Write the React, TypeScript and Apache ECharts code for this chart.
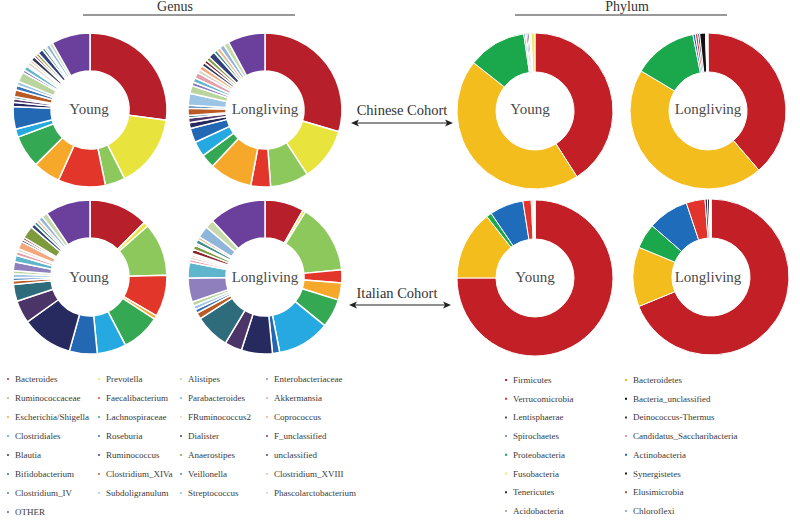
import React, { useEffect, useRef } from 'react';
import * as echarts from 'echarts';

// ---------- Genus data (pie order, clockwise from 12 o'clock) ----------
const genusNames = [
  'Bacteroides', 'Prevotella', 'Ruminococcaceae', 'Faecalibacterium', 'Escherichia/Shigella',
  'Lachnospiraceae', 'Clostridiales', 'Roseburia', 'Blautia', 'Ruminococcus',
  'Bifidobacterium', 'Clostridium_XIVa', 'Clostridium_IV', 'Subdoligranulum', 'Alistipes',
  'Enterobacteriaceae', 'Parabacteroides', 'Akkermansia', 'FRuminococcus2', 'Coprococcus',
  'Dialister', 'F_unclassified', 'Anaerostipes', 'unclassified', 'Veillonella',
  'Clostridium_XVIII', 'Streptococcus', 'Phascolarctobacterium', 'OTHER',
];
const genusColors = [
  '#b7202a', '#e9e33d', '#8dc85c', '#e3362b', '#f5a82a',
  '#34a853', '#25a9e0', '#2368b2', '#262a5e', '#4b3468',
  '#2e6c7c', '#b95a24', '#3f74b5', '#9cc4e4', '#b9d49c',
  '#8f80bd', '#5fb6cc', '#e3a0aa', '#d9d6c6', '#f4a77a',
  '#2f3b5c', '#8a2631', '#7d9a3c', '#34407a', '#3f8f8a',
  '#f0b48a', '#8fb6da', '#c6d9ad', '#6b3f9c',
];
const genusChineseYoung = [27.0, 15.4, 4.2, 9.9, 5.7, 6.8, 1.7, 4.7, 0.9, 0.7, 0.5, 1.4, 1.0, 0.8, 2.1, 0.6, 0.9, 0.4, 0.7, 0.5, 0.9, 0.5, 0.6, 1.1, 0.6, 0.4, 0.8, 0.7, 8.1];
const genusChineseLongliving = [29.3, 11.1, 8.0, 4.1, 8.9, 2.9, 3.2, 3.0, 1.2, 1.0, 0.5, 1.5, 0.6, 2.5, 1.6, 0.8, 0.9, 1.2, 0.8, 0.9, 0.8, 0.7, 0.8, 1.4, 0.7, 0.8, 1.0, 1.1, 7.8];
const genusItalianYoung = [12.4, 1.0, 11.1, 8.7, 0.8, 8.1, 6.1, 5.8, 10.7, 4.8, 3.5, 0.8, 0.6, 0.8, 0.7, 1.8, 1.4, 0.8, 0.6, 1.6, 0.5, 0.5, 2.6, 0.9, 0.7, 0.6, 0.9, 1.2, 9.4];
const genusItalianLongliving = [8.2, 0.6, 14.6, 2.7, 3.6, 6.0, 11.0, 1.5, 6.5, 3.6, 7.3, 1.3, 0.8, 0.8, 0.9, 5.0, 3.3, 0.6, 0.6, 0.4, 0.3, 0.9, 0.9, 0.4, 0.9, 0.6, 2.5, 1.8, 11.9];
const genusLegendColumns = [
  ['Bacteroides', 'Ruminococcaceae', 'Escherichia/Shigella', 'Clostridiales', 'Blautia', 'Bifidobacterium', 'Clostridium_IV', 'OTHER'],
  ['Prevotella', 'Faecalibacterium', 'Lachnospiraceae', 'Roseburia', 'Ruminococcus', 'Clostridium_XIVa', 'Subdoligranulum'],
  ['Alistipes', 'Parabacteroides', 'FRuminococcus2', 'Dialister', 'Anaerostipes', 'Veillonella', 'Streptococcus'],
  ['Enterobacteriaceae', 'Akkermansia', 'Coprococcus', 'F_unclassified', 'unclassified', 'Clostridium_XVIII', 'Phascolarctobacterium'],
];

// ---------- Phylum data ----------
const phylumNames = [
  'Firmicutes', 'Bacteroidetes', 'Proteobacteria', 'Actinobacteria', 'Verrucomicrobia',
  'Tenericutes', 'Bacteria_unclassified', 'Synergistetes', 'Lentisphaerae', 'Spirochaetes',
  'Deinococcus-Thermus', 'Candidatus_Saccharibacteria', 'Elusimicrobia', 'Acidobacteria', 'Chloroflexi',
  'Fusobacteria',
];
const phylumColors = [
  '#c21f26', '#f2bd1d', '#1ba84c', '#1f6cbb', '#e2342c',
  '#2a2f5e', '#111111', '#222222', '#4d5a4a', '#8a9bb0',
  '#3a3a3a', '#d89aa6', '#a0603a', '#a9b59a', '#a7aebf',
  '#efe86a',
];
const phylumChineseYoung = [41.0, 44.7, 12.1, 0.3, 0.2, 0.3, 0.3, 0.05, 0.1, 0.1, 0.05, 0.05, 0.02, 0.02, 0.02, 0.8];
const phylumChineseLongliving = [38.7, 44.9, 13.3, 0.5, 0.5, 0.4, 1.2, 0.1, 0.1, 0.05, 0.05, 0.05, 0.02, 0.02, 0.02, 0.1];
const phylumItalianYoung = [75.0, 14.4, 1.1, 7.0, 1.7, 0.2, 0.2, 0.05, 0.1, 0.05, 0.02, 0.05, 0.02, 0.02, 0.02, 0.05];
const phylumItalianLongliving = [69.0, 12.4, 5.2, 8.5, 3.9, 0.5, 0.4, 0.05, 0.05, 0.05, 0.02, 0.05, 0.02, 0.02, 0.02, 0.05];
const phylumLegendColumns = [
  ['Firmicutes', 'Verrucomicrobia', 'Lentisphaerae', 'Spirochaetes', 'Proteobacteria', 'Fusobacteria', 'Tenericutes', 'Acidobacteria'],
  ['Bacteroidetes', 'Bacteria_unclassified', 'Deinococcus-Thermus', 'Candidatus_Saccharibacteria', 'Actinobacteria', 'Synergistetes', 'Elusimicrobia', 'Chloroflexi'],
];

const groupLabels = ['Young', 'Longliving'];

const SERIF = '"Liberation Serif", "Times New Roman", serif';

function pieSeries(names: string[], colors: string[], values: number[], center: number[], radius: number[], borderWidth: number) {
  return {
    type: 'pie',
    center,
    radius,
    startAngle: 90,
    clockwise: true,
    avoidLabelOverlap: false,
    silent: true,
    label: { show: false },
    labelLine: { show: false },
    itemStyle: { borderColor: '#ffffff', borderWidth },
    data: names.map((n, i) => ({ name: n, value: values[i], itemStyle: { color: colors[i] } })),
  };
}

function centerText(text: string, x: number, y: number) {
  return {
    type: 'text',
    x,
    y,
    style: { text, fontFamily: SERIF, fontSize: 15, fill: '#4a4a4a', align: 'center', verticalAlign: 'middle' },
  };
}

function arrow(x1: number, x2: number, y: number) {
  return [
    { type: 'line', shape: { x1: x1 + 4, y1: y, x2: x2 - 4, y2: y }, style: { stroke: '#222', lineWidth: 1.2 } },
    { type: 'polygon', shape: { points: [[x1, y], [x1 + 8, y - 3.5], [x1 + 6, y], [x1 + 8, y + 3.5]] }, style: { fill: '#222' } },
    { type: 'polygon', shape: { points: [[x2, y], [x2 - 8, y - 3.5], [x2 - 6, y], [x2 - 8, y + 3.5]] }, style: { fill: '#222' } },
  ];
}

export default function App() {
  const ref = useRef<HTMLDivElement>(null);

  useEffect(() => {
    document.body.style.margin = '0';
    if (!ref.current) return;
    const chart = echarts.init(ref.current, null, { renderer: 'svg' });

    const gR = [39, 77];
    const pR = [39, 78];

    const legendText = { fontFamily: SERIF, fontSize: 9, color: '#3a3a3a', lineHeight: 10 };
    const genusLegendLeft = [5, 96, 178, 264];
    const phylumLegendLeft = [503, 623];

    const legends = [
      ...genusLegendColumns.map((col, i) => ({
        orient: 'vertical', left: genusLegendLeft[i], top: 374, padding: 0,
        itemWidth: 4, itemHeight: 4, itemGap: 9, icon: 'circle', selectedMode: false,
        textStyle: legendText, data: col,
      })),
      ...phylumLegendColumns.map((col, i) => ({
        orient: 'vertical', left: phylumLegendLeft[i], top: 375, padding: 0,
        itemWidth: 4, itemHeight: 4, itemGap: 8.7, icon: 'rect', selectedMode: false,
        textStyle: legendText, data: col,
      })),
    ];

    chart.setOption({
      animation: false,
      backgroundColor: '#ffffff',
      legend: legends,
      series: [
        pieSeries(genusNames, genusColors, genusChineseYoung, [90, 110], gR, 1.5),
        pieSeries(genusNames, genusColors, genusChineseLongliving, [265, 110], gR, 1.5),
        pieSeries(genusNames, genusColors, genusItalianYoung, [90, 277], gR, 1.5),
        pieSeries(genusNames, genusColors, genusItalianLongliving, [265, 277], gR, 1.5),
        pieSeries(phylumNames, phylumColors, phylumChineseYoung, [535, 111], pR, 1),
        pieSeries(phylumNames, phylumColors, phylumChineseLongliving, [708, 111], pR, 1),
        pieSeries(phylumNames, phylumColors, phylumItalianYoung, [535, 278], pR, 1),
        pieSeries(phylumNames, phylumColors, phylumItalianLongliving, [711, 277], pR, 1),
      ],
      graphic: [
        { type: 'text', x: 175, y: 6, style: { text: 'Genus', fontFamily: SERIF, fontSize: 14, fill: '#333', align: 'center', verticalAlign: 'middle' } },
        { type: 'line', shape: { x1: 83, y1: 15, x2: 295, y2: 15 }, style: { stroke: '#333', lineWidth: 1 } },
        { type: 'text', x: 627, y: 6, style: { text: 'Phylum', fontFamily: SERIF, fontSize: 14, fill: '#333', align: 'center', verticalAlign: 'middle' } },
        { type: 'line', shape: { x1: 515, y1: 15, x2: 727, y2: 15 }, style: { stroke: '#333', lineWidth: 1 } },
        centerText(groupLabels[0], 89, 109),
        centerText(groupLabels[1], 265, 109),
        centerText(groupLabels[0], 89, 277),
        centerText(groupLabels[1], 265, 277),
        centerText(groupLabels[0], 530, 109),
        centerText(groupLabels[1], 708, 109),
        centerText(groupLabels[0], 535, 277),
        centerText(groupLabels[1], 708, 277),
        { type: 'text', x: 402, y: 110, style: { text: 'Chinese Cohort', fontFamily: SERIF, fontSize: 14.5, fill: '#333', align: 'center', verticalAlign: 'middle' } },
        ...arrow(351, 453, 123),
        { type: 'text', x: 397, y: 293, style: { text: 'Italian Cohort', fontFamily: SERIF, fontSize: 14.5, fill: '#333', align: 'center', verticalAlign: 'middle' } },
        ...arrow(349, 451, 305),
      ],
    });

    return () => chart.dispose();
  }, []);

  return <div ref={ref} style={{ width: 800, height: 522 }} />;
}
